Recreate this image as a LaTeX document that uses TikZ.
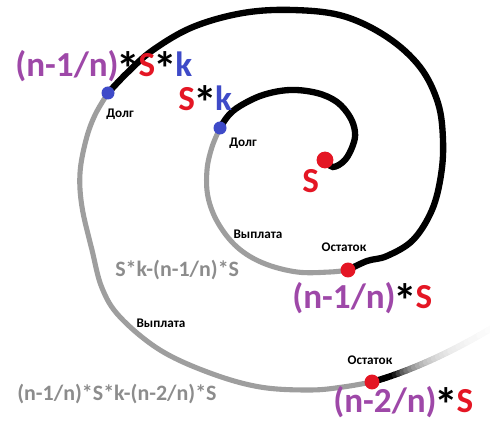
\documentclass[tikz,border=0pt]{standalone}
\usepackage{fontspec}
\setmainfont{Carlito}
\usetikzlibrary{calc}
\definecolor{sumpurple}{RGB}{158,72,168}
\definecolor{sumred}{RGB}{228,22,36}
\definecolor{sumblue}{RGB}{62,74,200}
\definecolor{paygray}{RGB}{158,158,158}
\definecolor{formgray}{RGB}{140,140,140}
\newcommand{\bigast}{\kern-1pt\raisebox{-5pt}[0pt][0pt]{\fontsize{27}{27}\selectfont *}\kern-1pt}

\begin{document}
\begin{tikzpicture}[
    x=0.02cm, y=-0.02cm,
    debt/.style={line width=3.6pt, line cap=round, black},
    pay/.style={line width=2.9pt, line cap=round, paygray},
    bigterm/.style={anchor=base west, inner sep=0pt, font=\fontsize{20}{24}\selectfont\bfseries},
    grayterm/.style={anchor=base west, inner sep=0pt, text=formgray, font=\fontsize{12.5}{15}\selectfont\bfseries},
    stagelbl/.style={inner sep=0pt, font=\fontsize{7.5}{9}\selectfont\bfseries},
    spot/.style={circle, fill=#1, inner sep=0pt}
]
\useasboundingbox (0,0) rectangle (490,428);

% points where the spiral changes colour
\coordinate (start) at (325,160);
\coordinate (take1) at (220,128);
\coordinate (left1) at (348,270);
\coordinate (take2) at (108,93);
\coordinate (left2) at (372,382);

% inner turn
\draw[debt] plot[smooth, tension=0.6] coordinates {(start) (333,167) (345,160) (353,145) (355,132) (350,117) (337,102) (317,93) (290,90) (263,95) (240,106) (228,116) (take1)};
\draw[pay] plot[smooth, tension=0.6] coordinates {(take1) (212,147) (207,170) (208,197) (218,223) (237,247) (263,263) (297,272) (330,272) (left1)};

% outer turn
\draw[debt] plot[smooth, tension=0.6] coordinates {(left1) (367,261) (387,256) (413,240) (432,210) (441,175) (443,140) (438,103) (420,67) (387,37) (343,16) (293,10) (243,13) (193,27) (153,50) (127,73) (take2)};
\draw[pay] plot[smooth, tension=0.6] coordinates {(take2) (95,115) (86,140) (80,173) (82,207) (92,250) (102,288) (120,317) (160,350) (210,373) (260,387) (310,390) (343,387) (left2)};

% fading tail
\coordinate (tailctl) at (428,366);
\coordinate (tailend) at (492,328);
\foreach \n in {1,...,30}{
  \pgfmathsetmacro\sa{(\n-1)/30}
  \pgfmathsetmacro\sb{\n/30}
  \pgfmathtruncatemacro\k{\sa<0.18 ? 100 : 100*exp(-5*(\sa-0.18))}
  \draw[line width=3.6pt, line cap=round, black!\k]
    ($($(left2)!\sa!(tailctl)$)!\sa!($(tailctl)!\sa!(tailend)$)$) --
    ($($(left2)!\sb!(tailctl)$)!\sb!($(tailctl)!\sb!(tailend)$)$);
}

% dots
\node[spot=sumred, minimum size=9.6pt] (dot0) at (start) {};
\node[spot=sumblue, minimum size=7.4pt] (dot1) at (take1) {};
\node[spot=sumred, minimum size=8.5pt] (dot2) at (left1) {};
\node[spot=sumblue, minimum size=7.4pt] (dot3) at (take2) {};
\node[spot=sumred, minimum size=8.5pt] (dot4) at (left2) {};

% formulas
\node[bigterm] (topsum) at (15,77) {\textcolor{sumpurple}{(n-1/n)}\bigast\textcolor{sumred}{S}\bigast\textcolor{sumblue}{k}};
\node[bigterm] (firstsum) at (178,111) {\textcolor{sumred}{S}\bigast\textcolor{sumblue}{k}};
\node[bigterm, text=sumred] (loan) at (302,193) {S};
\node[bigterm] (rest1) at (292,309) {\textcolor{sumpurple}{(n-1/n)}\bigast\textcolor{sumred}{S}};
\node[bigterm] (rest2) at (333,413) {\textcolor{sumpurple}{(n-2/n)}\bigast\textcolor{sumred}{S}};
\node[grayterm] (pay1) at (115,277) {S*k-(n-1/n)*S};
\node[grayterm] (pay2) at (17,401) {(n-1/n)*S*k-(n-2/n)*S};

% stage labels
\node[stagelbl] (debt1) at (243,143) {Долг};
\node[stagelbl] (debt2) at (120,114) {Долг};
\node[stagelbl] (payout1) at (258,234) {Выплата};
\node[stagelbl] (payout2) at (161,323) {Выплата};
\node[stagelbl] (rem1) at (344,247) {Остаток};
\node[stagelbl] (rem2) at (370,360) {Остаток};
\end{tikzpicture}
\end{document}
